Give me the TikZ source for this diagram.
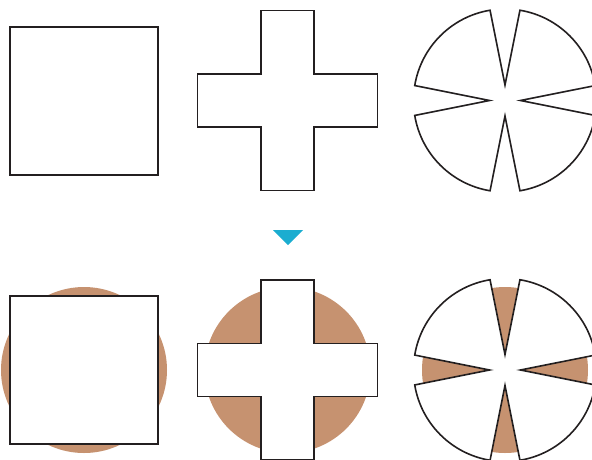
\documentclass[tikz,border=0pt]{standalone}
\usetikzlibrary{calc}

\definecolor{clay}{HTML}{C69270}
\definecolor{marker}{HTML}{1BADD0}
\definecolor{ink}{HTML}{231F20}

\begin{document}
\begin{tikzpicture}[
  x=1pt, y=-1pt,
  outline/.style={draw=ink, line width=1.6pt, fill=white, line join=miter},
  disc/.style={fill=clay}
]
\clip (0,0) rectangle (592,459);

% centres of the six figures
\coordinate (sqtop)   at (84,101);
\coordinate (crtop)   at (287.5,100.5);
\coordinate (nctop)   at (505,100.5);
\coordinate (sqbot)   at (84,370);
\coordinate (crbot)   at (287.5,370);
\coordinate (ncbot)   at (505,370);

% discs behind the lower row
\foreach \c in {sqbot,crbot,ncbot}
  \fill[disc] (\c) circle[radius=83];

% squares
\foreach \c in {sqtop,sqbot}
  \draw[outline] ($(\c)+(-74,-74)$) rectangle ($(\c)+(74,74)$);

% crosses
\foreach \c in {crtop,crbot}
  \draw[outline, shift={(\c)}]
    (-26.5,-90) -- (26.5,-90) -- (26.5,-26.5) -- (90,-26.5) -- (90,26.5)
    -- (26.5,26.5) -- (26.5,90) -- (-26.5,90) -- (-26.5,26.5) -- (-90,26.5)
    -- (-90,-26.5) -- (-26.5,-26.5) -- cycle;

% notched circles
\foreach \c in {nctop,ncbot}
  \draw[outline, shift={(\c)}] (99.4:91.5)
    \foreach \a in {90,180,270,360} {
      arc[start angle=\a+9.4, end angle=\a+80.6, radius=91.5]
      -- (\a+90:15.5) -- (\a+99.4:91.5)
    } -- cycle;

% marker between the rows
\fill[marker] (273,230) -- (303,230) -- (288,245) -- cycle;
\end{tikzpicture}
\end{document}
